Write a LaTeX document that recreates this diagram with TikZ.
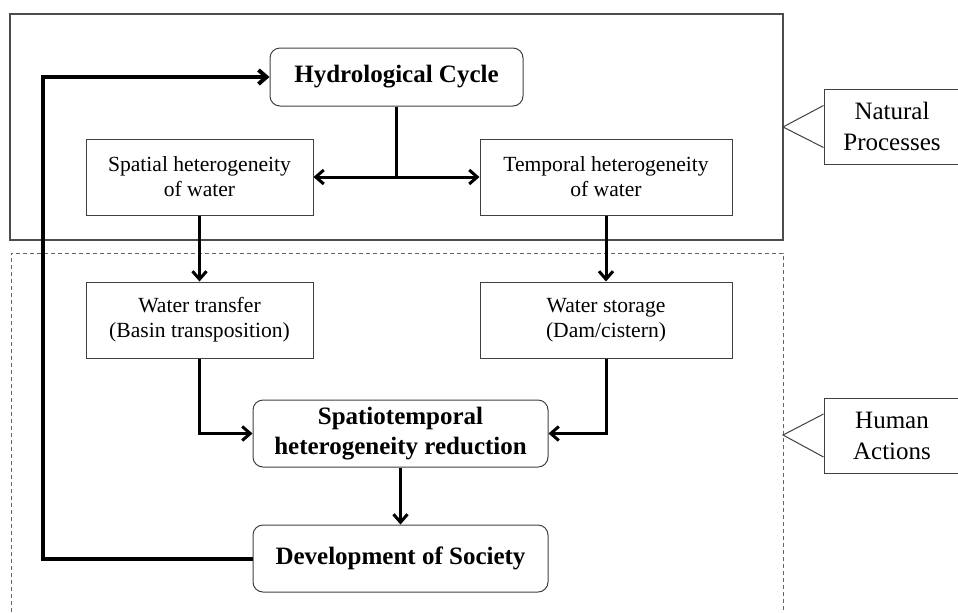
\documentclass[tikz,border=0pt]{standalone}
\usepackage{fontspec}
\setmainfont{Liberation Serif}
\usetikzlibrary{arrows.meta}

\begin{document}
\begin{tikzpicture}[x=0.5pt, y=-0.5pt,
	box/.style={draw=black!75, line width=0.5pt, align=center, inner sep=0pt, font=\fontsize{10.8}{12.5}\selectfont},
	rbox/.style={box, rounded corners=5pt, font=\fontsize{12.5}{15}\selectfont\bfseries},
	side/.style={box, font=\fontsize{12.5}{15.5}\selectfont},
	flow/.style={line width=1.5pt, ->},
	>={Straight Barb[length=4pt, width=7pt]}]
	\useasboundingbox (0,0) rectangle (958,612);
	% frames
	\draw[black!70, line width=0.6pt] (10,14) rectangle (783,240);
	\draw[black!60, line width=0.5pt, dash pattern=on 2pt off 1.5pt] (11,612) -- (11,253) -- (783,253) -- (783,612);
	% nodes
	\node[rbox, minimum width=126.5pt, minimum height=29pt] (hydro) at (396.5,77) {Hydrological Cycle};
	\node[box, minimum width=113.5pt, minimum height=38pt] (spatial) at (199.5,177) {Spatial heterogeneity\\of water};
	\node[box, minimum width=126pt, minimum height=38pt] (temporal) at (606,177) {Temporal heterogeneity\\of water};
	\node[box, minimum width=113.5pt, minimum height=38pt] (transfer) at (199.5,320) {Water transfer\\(Basin transposition)};
	\node[box, minimum width=126pt, minimum height=38pt] (storage) at (606,320) {Water storage\\(Dam/cistern)};
	\node[rbox, minimum width=147.5pt, minimum height=33.5pt] (reduce) at (400.5,433.5) {Spatiotemporal\\heterogeneity reduction};
	\node[rbox, minimum width=147.5pt, minimum height=33.5pt] (society) at (400.5,558.5) {Development of Society};
	\node[side, minimum width=68pt, minimum height=37.5pt] (natural) at (892,126.5) {Natural\\Processes};
	\node[side, minimum width=68pt, minimum height=37.5pt] (human) at (892,435.5) {Human\\Actions};
	% connectors
	\coordinate (split) at (hydro.south |- spatial.east);
	\coordinate (corner) at (43,558.5);
	\coordinate (ntip) at (783,127);
	\coordinate (htip) at (783,435);
	\draw[line width=1.5pt] (hydro) -- (split);
	\draw[flow, <->] (spatial) -- (temporal);
	\draw[flow] (spatial) -- (transfer);
	\draw[flow] (temporal) -- (storage);
	\draw[flow] (transfer) |- (reduce);
	\draw[flow] (storage) |- (reduce);
	\draw[flow] (reduce) -- (society);
	\draw[line width=2pt, ->] (society.west) -- (corner) |- (hydro.west);
	\draw[black!75, line width=0.5pt] ([yshift=10.5pt]natural.west) -- (ntip) -- ([yshift=-10.5pt]natural.west);
	\draw[black!75, line width=0.5pt] ([yshift=10.75pt]human.west) -- (htip) -- ([yshift=-10.75pt]human.west);
\end{tikzpicture}
\end{document}
